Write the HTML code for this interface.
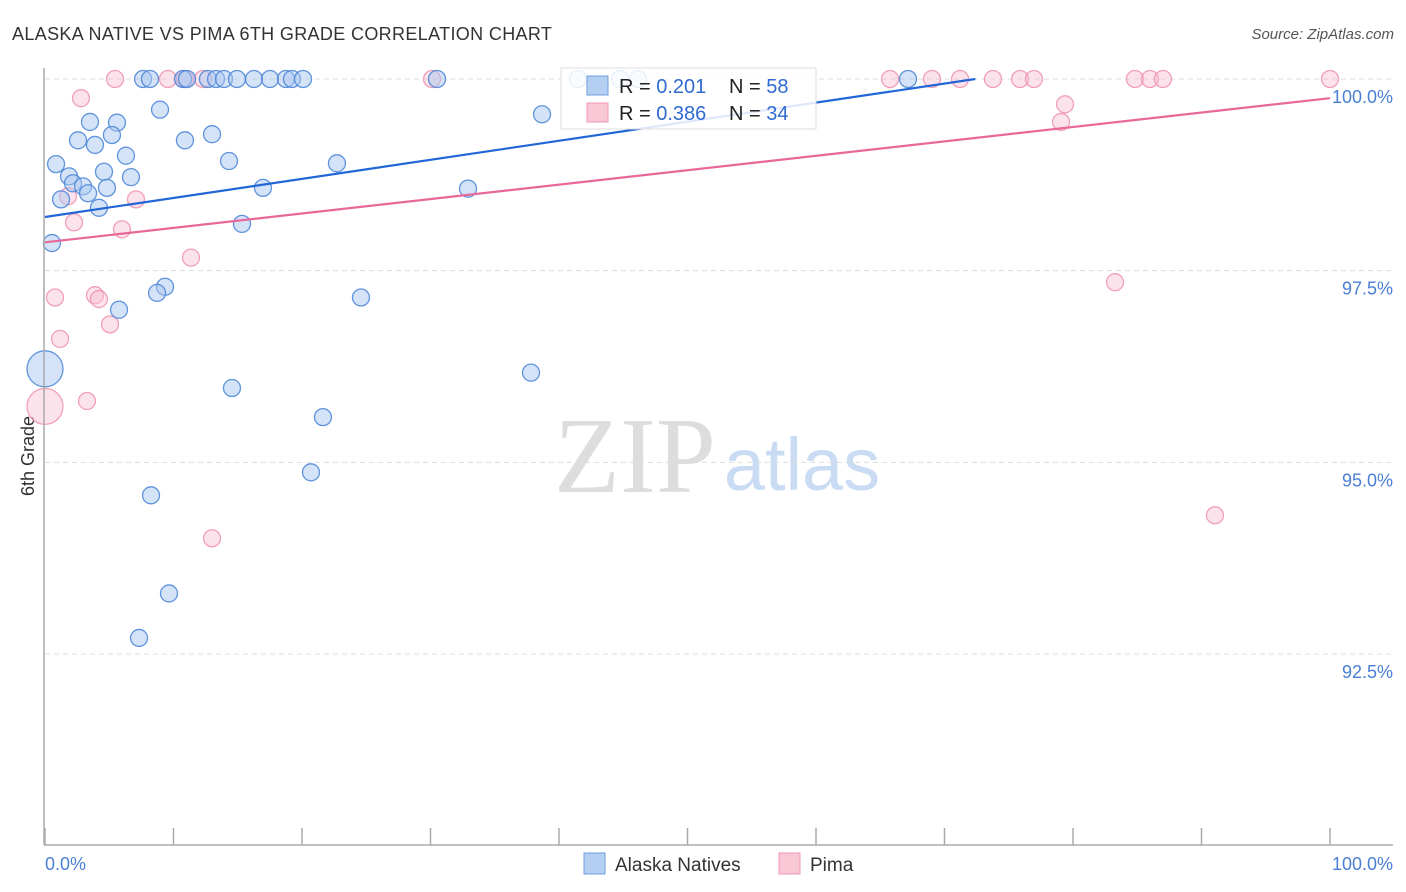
<!DOCTYPE html>
<html><head><meta charset="utf-8"><style>
body{margin:0;background:#fff;font-family:"Liberation Sans",sans-serif;}
svg{display:block}
</style></head><body>
<svg id="chart" width="1406" height="892">
<text x="12" y="40" font-size="18" fill="#333" letter-spacing="0.35">ALASKA NATIVE VS PIMA 6TH GRADE CORRELATION CHART</text>
<text x="1394" y="39" font-size="15" fill="#555" font-style="italic" text-anchor="end">Source: ZipAtlas.com</text>
<text x="34" y="456" font-size="18" fill="#333" text-anchor="middle" transform="rotate(-90 34 456)">6th Grade</text>
<g>
<text x="635" y="492" font-size="108" font-family="Liberation Serif,serif" fill="#ddd" text-anchor="middle">ZIP</text>
<text x="802" y="490" font-size="74" fill="#c9dcf3" text-anchor="middle">atlas</text>
</g>
<g id="grid"></g>
<g id="points"></g>
<g id="lines"></g>
<line x1="44" y1="68" x2="44" y2="845" stroke="#aaa" stroke-width="1.5"/>
<line x1="44" y1="845" x2="1393" y2="845" stroke="#aaa" stroke-width="1.5"/>
<text x="45" y="870" font-size="18" fill="#4a7fd4">0.0%</text>
<text x="1393" y="870" font-size="18" fill="#4a7fd4" text-anchor="end">100.0%</text>
<g>
<rect x="561" y="68" width="255" height="61" fill="rgba(255,255,255,0.85)" stroke="#ddd"/>
<rect x="587" y="76" width="21" height="19" fill="#b5cff2" stroke="#6d9fe0"/>
<rect x="587" y="103" width="21" height="19" fill="#f8c6d4" stroke="#ee9ab3"/>
<text x="619" y="93" font-size="20" fill="#222">R = <tspan fill="#2f6bd1">0.201</tspan></text>
<text x="729" y="93" font-size="20" fill="#222">N = <tspan fill="#2f6bd1">58</tspan></text>
<text x="619" y="120" font-size="20" fill="#222">R = <tspan fill="#2f6bd1">0.386</tspan></text>
<text x="729" y="120" font-size="20" fill="#222">N = <tspan fill="#2f6bd1">34</tspan></text>
</g>
<g>
<rect x="584" y="853" width="21" height="21" fill="#b5cff2" stroke="#6d9fe0"/>
<text x="615" y="871" font-size="19" fill="#333">Alaska Natives</text>
<rect x="779" y="853" width="21" height="21" fill="#f8c6d4" stroke="#ee9ab3"/>
<text x="810" y="871" font-size="19" fill="#333">Pima</text>
</g>
</svg>
<script>
const yTicks=[100,97.5,95,92.5];
const yTickLabels=["100.0%","97.5%","95.0%","92.5%"];
const xTicks=[0,10,20,30,40,50,60,70,80,90,100];
const blueX=[7.63,8.17,10.74,11.05,12.68,13.31,13.93,14.94,16.26,17.51,18.75,19.22,20.08,30.51,41.48,44.75,46.15,67.16,8.95,3.50,5.60,2.57,5.21,3.89,10.89,13.00,0.86,6.30,14.32,22.72,4.59,1.87,6.69,2.18,2.96,4.82,3.35,16.96,32.92,1.25,4.20,15.33,0.54,9.34,8.72,24.59,5.76,0,37.82,14.55,21.63,20.70,8.25,9.65,7.32,38.68];
const blueY=[100,100,100,100,100,100,100,100,100,100,100,100,100,100,100,100,100,100,99.60,99.44,99.43,99.20,99.27,99.14,99.20,99.28,98.89,99.00,98.93,98.90,98.79,98.73,98.72,98.64,98.60,98.58,98.51,98.58,98.57,98.43,98.32,98.11,97.86,97.29,97.21,97.15,96.99,96.22,96.17,95.97,95.59,94.87,94.57,93.29,92.71,99.54];
const blueBig=[47];
const pinkX=[5.45,9.57,10.89,12.30,30.12,65.76,69.03,71.21,73.77,75.88,76.96,84.82,85.99,87.00,100,2.80,79.38,79.07,1.79,7.08,2.26,5.99,11.36,0.78,3.89,4.20,5.06,1.17,0,3.27,83.27,91.05,13.00];
const pinkY=[100,100,100,100,100,100,100,100,100,100,100,100,100,100,100,99.75,99.67,99.44,98.47,98.43,98.13,98.04,97.67,97.15,97.18,97.13,96.80,96.61,95.73,95.80,97.35,94.31,94.01];
const pinkBig=[28];
const blueTrend=[[0,98.2],[72.4,100]];
const pinkTrend=[[0,97.87],[100,99.75]];
const NS="http://www.w3.org/2000/svg";
const sx=v=>45+v*12.85;
const sy=v=>79+(100-v)*76.67;
function mk(t,a,p){const e=document.createElementNS(NS,t);for(const k in a)e.setAttribute(k,a[k]);p.appendChild(e);return e;}
const grid=document.getElementById('grid');
yTicks.forEach((t,i)=>{
 const l=mk('line',{x1:45,x2:1393,y1:sy(t),y2:sy(t),stroke:'#ddd','stroke-dasharray':'5,4'},grid);
 
 
 const tx=mk('text',{x:1393,y:sy(t)+24,'font-size':18,fill:'#4a7fd4','text-anchor':'end'},grid);
 tx.textContent=yTickLabels[i];
 
 
});
xTicks.forEach(t=>{
 const l=mk('line',{x1:sx(t),x2:sx(t),y1:828,y2:845,stroke:'#aaa','stroke-width':1.5},grid);
 
 
});
const pts=document.getElementById('points');
function draw(xs,ys,big,fill,stroke,name){
 xs.forEach((x,i)=>{
  const c=mk('circle',{cx:sx(x),cy:sy(ys[i]),r:big.includes(i)?18:8.5,fill:fill,stroke:stroke,'stroke-width':1.3},pts);
  
  
 });
}
draw(pinkX,pinkY,pinkBig,'rgba(248,190,208,0.45)','rgba(236,140,170,0.8)','pima-point');
draw(blueX,blueY,blueBig,'rgba(170,200,240,0.5)','rgba(70,130,215,0.85)','alaska-native-point');
const ln=document.getElementById('lines');
const b=mk('line',{x1:sx(blueTrend[0][0]),y1:sy(blueTrend[0][1]),x2:sx(blueTrend[1][0]),y2:sy(blueTrend[1][1]),stroke:'#2166d6','stroke-width':2.2},ln);


const p=mk('line',{x1:sx(pinkTrend[0][0]),y1:sy(pinkTrend[0][1]),x2:sx(pinkTrend[1][0]),y2:sy(pinkTrend[1][1]),stroke:'#e8689a','stroke-width':2.2},ln);


</script>
</body></html>
